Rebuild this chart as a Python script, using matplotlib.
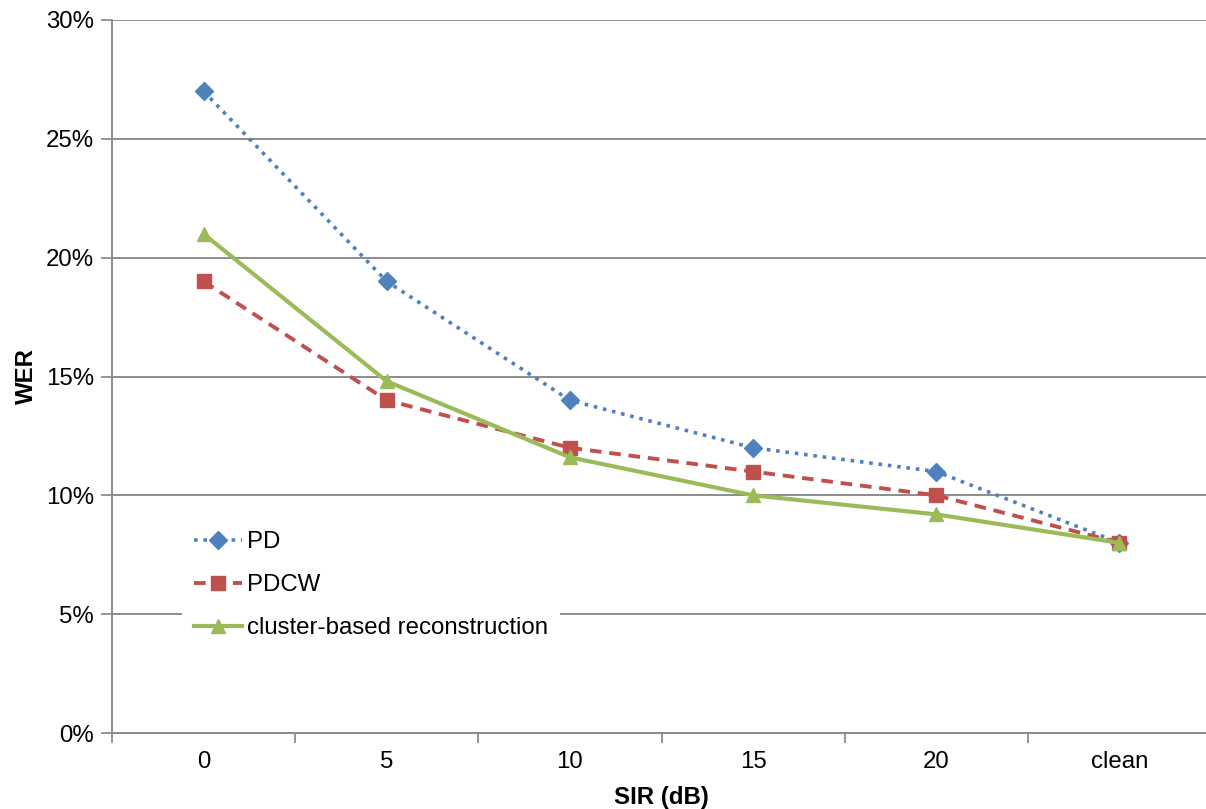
import matplotlib
matplotlib.use("Agg")
import matplotlib.pyplot as plt
from matplotlib.ticker import FuncFormatter

categories = ["0", "5", "10", "15", "20", "clean"]
pd_wer = [27, 19, 14, 12, 11, 8]
pdcw_wer = [19, 14, 12, 11, 10, 8]
cluster_wer = [21, 14.8, 11.6, 10, 9.2, 8]

plt.rcParams['font.family'] = ['Liberation Sans', 'DejaVu Sans']
fs = 17.3

fig = plt.figure(figsize=(12.06, 8.09), dpi=100)
ax = fig.add_axes([112 / 1206, 76 / 809, 1099 / 1206, 713 / 809])

x = list(range(len(categories)))
grid_col = "#8c8c8c"

ax.plot(x, pd_wer, color="#4F81BD", linestyle=(0, (1, 1.6)), linewidth=2.6,
        marker="D", markersize=9, label="PD", zorder=3)
ax.plot(x, pdcw_wer, color="#C0504D", linestyle=(0, (3, 2)), linewidth=2.8,
        marker="s", markersize=9.5, label="PDCW", zorder=3)
ax.plot(x, cluster_wer, color="#9BBB59", linestyle="-", linewidth=3,
        marker="^", markersize=10.5, label="cluster-based reconstruction", zorder=3)

ax.set_xlim(-0.5, 5.5)
ax.set_ylim(0, 30)
ax.set_yticks(range(0, 31, 5))
ax.yaxis.set_major_formatter(FuncFormatter(lambda v, p: f"{v:.0f}%"))
ax.set_xticks(x)
ax.set_xticklabels(categories)
ax.set_xticks([i - 0.5 for i in range(len(categories) + 1)], minor=True)
ax.tick_params(axis="x", which="major", length=0, pad=13, labelsize=fs)
ax.tick_params(axis="x", which="minor", length=7, width=1.3, color=grid_col)
ax.tick_params(axis="y", length=8, width=1.3, color=grid_col, pad=5, labelsize=fs)

ax.grid(axis="y", color=grid_col, linewidth=1.4)
ax.set_axisbelow(True)
for s in ["top", "right"]:
    ax.spines[s].set_visible(False)
for s in ["left", "bottom"]:
    ax.spines[s].set_color(grid_col)
    ax.spines[s].set_linewidth(1.4)

ax.set_ylabel("WER", fontsize=fs, fontweight="bold", labelpad=6)
ax.set_xlabel("SIR (dB)", fontsize=fs, fontweight="bold", labelpad=9)

leg = ax.legend(loc="upper left", bbox_to_anchor=(0.0637, 0.300), frameon=True,
                fontsize=fs, handlelength=2.0, labelspacing=0.87,
                borderpad=0.5, handletextpad=0.2, borderaxespad=0)
leg.get_frame().set_edgecolor("none")
leg.get_frame().set_facecolor("white")
leg.get_frame().set_alpha(1)
leg.get_frame().set_boxstyle("square", pad=0)

fig.savefig("out.png", dpi=100)
